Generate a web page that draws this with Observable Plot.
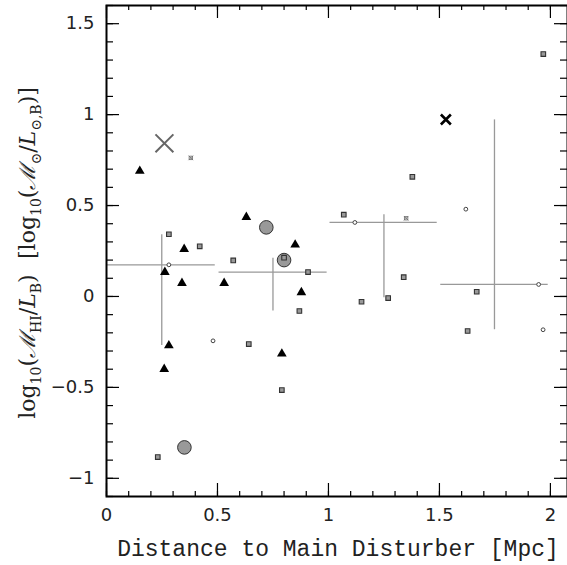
<!DOCTYPE html>
<html>
<head>
<meta charset="utf-8">
<script src="https://cdn.jsdelivr.net/npm/d3@7"></script>
<script src="https://cdn.jsdelivr.net/npm/@observablehq/plot@0.6"></script>
<style>
  html, body { margin: 0; padding: 0; background: white; }
</style>
</head>
<body>
<div id="chart"></div>
<script>
// ---- data ----
const triX = [0.15, 0.63, 0.35, 0.85, 0.263, 0.34, 0.53, 0.878, 0.281, 0.26, 0.79];
const triY = [0.69, 0.436, 0.26, 0.284, 0.134, 0.073, 0.073, 0.022, -0.27, -0.40, -0.315];

const bigCircX = [0.72, 0.80, 0.351];
const bigCircY = [0.38, 0.20, -0.83];

const sqX = [0.281, 0.42, 0.571, 0.80, 0.908, 0.869, 0.641, 0.79, 0.231, 1.378, 1.069, 1.339, 1.269, 1.149, 1.668, 1.627, 1.968];
const sqY = [0.342, 0.276, 0.198, 0.213, 0.134, -0.08, -0.262, -0.515, -0.883, 0.658, 0.45, 0.106, -0.009, -0.029, 0.026, -0.19, 1.333];

const openCircX = [0.281, 0.48, 1.119, 1.619, 1.947, 1.967];
const openCircY = [0.174, -0.244, 0.407, 0.48, 0.066, -0.183];

const crossSqX = [0.38, 1.35];
const crossSqY = [0.762, 0.43];

const bigGrayXx = [0.261];
const bigGrayXy = [0.842];

const blackXx = [1.529];
const blackXy = [0.973];

// binned means with scatter
const binX1 = [0.0, 0.507, 1.007, 1.506];
const binX2 = [0.49, 0.994, 1.49, 1.99];
const binMean = [0.174, 0.134, 0.407, 0.066];
const binMid = [0.249, 0.75, 1.25, 1.748];
const binLo = [-0.27, -0.08, -0.007, -0.183];
const binHi = [0.34, 0.21, 0.449, 0.971];

const yMajor = [-1, -0.5, 0, 0.5, 1, 1.5];
const xMajor = [0, 0.5, 1, 1.5, 2];
const yMinor = [-1.1, -1, -0.9, -0.8, -0.7, -0.6, -0.5, -0.4, -0.3, -0.2, -0.1, 0, 0.1, 0.2, 0.3, 0.4, 0.5, 0.6, 0.7, 0.8, 0.9, 1, 1.1, 1.2, 1.3, 1.4, 1.5, 1.6];
const xMinor = [0, 0.1, 0.2, 0.3, 0.4, 0.5, 0.6, 0.7, 0.8, 0.9, 1, 1.1, 1.2, 1.3, 1.4, 1.5, 1.6, 1.7, 1.8, 1.9, 2];

const xDomain = [0, 2.077];
const yDomain = [-1.1, 1.6];

// ---- tables ----
const pts = (xs, ys) => xs.map((x, i) => ({x, y: ys[i]}));
const tri = pts(triX, triY);
const bigCirc = pts(bigCircX, bigCircY);
const sq = pts(sqX, sqY);
const openCirc = pts(openCircX, openCircY);
const crossSq = pts(crossSqX, crossSqY);
const bigGrayX = pts(bigGrayXx, bigGrayXy);
const blackX = pts(blackXx, blackXy);
const bins = binX1.map((x1, i) => ({x1, x2: binX2[i], mean: binMean[i], mid: binMid[i], lo: binLo[i], hi: binHi[i]}));

const fmt = d => d < 0 ? "\u2212" + Math.abs(d) : String(d);

const W = 567, H = 565, mL = 106, mR = 0, mT = 5, mB = 69;
const innerW = W - mL - mR, innerH = H - mT - mB;
// pixel tick lengths converted to data units along each axis
const perPxX = (xDomain[1] - xDomain[0]) / innerW;
const perPxY = (yDomain[1] - yDomain[0]) / innerH;

const tickRowsX = (vals, len) => vals.flatMap(v => [
  {x: v, y1: yDomain[0], y2: yDomain[0] + len * perPxY},
  {x: v, y1: yDomain[1], y2: yDomain[1] - len * perPxY}
]);
const tickRowsY = (vals, len) => vals.flatMap(v => [
  {y: v, x1: xDomain[0], x2: xDomain[0] + len * perPxX},
  {y: v, x1: xDomain[1], x2: xDomain[1] - len * perPxX}
]);
const xTicks = [...tickRowsX(xMinor, 5), ...tickRowsX(xMajor, 13)];
const yTicks = [...tickRowsY(yMinor, 7), ...tickRowsY(yMajor, 13)];

const svg = Plot.plot({
  width: W,
  height: H,
  marginLeft: mL,
  marginRight: mR,
  marginTop: mT,
  marginBottom: mB,
  x: {domain: xDomain},
  y: {domain: yDomain},
  style: {background: "white", fontFamily: "DejaVu Sans", fontSize: "18px", color: "black"},
  marks: [
    // tick labels
    Plot.axisX({anchor: "bottom", ticks: xMajor, tickSize: 0, tickPadding: 12, tickFormat: fmt, label: null, fill: "#222"}),
    Plot.axisY({anchor: "left", ticks: yMajor, tickSize: 0, tickPadding: 12, tickFormat: fmt, label: null, fill: "#222"}),
    // inward ticks on all four sides
    Plot.ruleX(xTicks, {x: "x", y1: "y1", y2: "y2", stroke: "black", strokeWidth: 1.2}),
    Plot.ruleY(yTicks, {y: "y", x1: "x1", x2: "x2", stroke: "black", strokeWidth: 1.2}),
    // bin crosses
    Plot.ruleY(bins, {y: "mean", x1: "x1", x2: "x2", stroke: "#999", strokeWidth: 1.3}),
    Plot.ruleX(bins, {x: "mid", y1: "lo", y2: "hi", stroke: "#999", strokeWidth: 1.3}),
    // points
    Plot.dot(bigCirc, {x: "x", y: "y", r: 6.8, fill: "#999", stroke: "#333", strokeWidth: 1}),
    Plot.dot(tri, {x: "x", y: "y", symbol: "triangle", r: 3.6, fill: "black"}),
    Plot.dot(sq, {x: "x", y: "y", symbol: "square", r: 2.6, fill: "#999", stroke: "#333", strokeWidth: 1.1}),
    Plot.dot(openCirc, {x: "x", y: "y", r: 1.9, fill: "white", stroke: "#444", strokeWidth: 1}),
    Plot.dot(crossSq, {x: "x", y: "y", symbol: "square", r: 1.9, fill: "none", stroke: "#666", strokeWidth: 0.8}),
    Plot.dot(crossSq, {x: "x", y: "y", symbol: "times", r: 2.2, stroke: "#666", strokeWidth: 0.8}),
    Plot.dot(bigGrayX, {x: "x", y: "y", symbol: "times", r: 8.2, stroke: "#666", strokeWidth: 2}),
    Plot.dot(blackX, {x: "x", y: "y", symbol: "times", r: 4.6, stroke: "black", strokeWidth: 2.6}),
    Plot.frame({stroke: "black", strokeWidth: 2})
  ]
});

const s = d3.select(svg);

// x axis title
s.append("text")
  .attr("x", 338).attr("y", 556)
  .attr("text-anchor", "middle")
  .style("font-family", "'Liberation Mono', 'DejaVu Sans Mono', monospace")
  .style("font-size", "23px")
  .attr("fill", "#222")
  .text("Distance to Main Disturber [Mpc]");

// y axis title (math)
const yl = s.append("text")
  .attr("transform", "translate(35,253) rotate(-90)")
  .attr("text-anchor", "middle")
  .style("font-family", "'DejaVu Serif', 'Liberation Serif', serif")
  .style("font-size", "22px")
  .attr("fill", "#222");
const parts = [
  ["log", 0], ["10", 1], ["(", 0], ["\u2133", 2], ["HI", 1], ["/", 0], ["L", 2], ["B", 1], [")\u2002\u2009[log", 0],
  ["10", 1], ["(", 0], ["\u2133", 2], ["\u2299", 1], ["/", 0], ["L", 2], ["\u2299,B", 1], [")]", 0]
];
let shifted = false;
for (const [t, k] of parts) {
  const ts = yl.append("tspan").text(t);
  if (k === 1) {
    ts.attr("dy", shifted ? 0 : 6).style("font-size", "14px");
    shifted = true;
  } else {
    if (shifted) ts.attr("dy", -6);
    shifted = false;
    if (k === 2) ts.style("font-style", "italic");
  }
}

document.getElementById("chart").appendChild(svg);
</script>
</body>
</html>
